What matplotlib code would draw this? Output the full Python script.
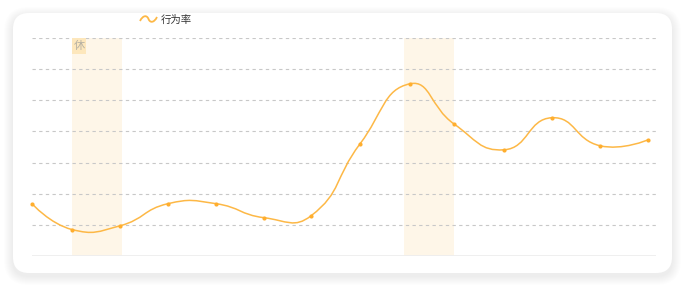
import matplotlib
matplotlib.use("Agg")
import matplotlib.pyplot as plt
from matplotlib.patches import FancyBboxPatch, PathPatch, Rectangle
from matplotlib.path import Path

plt.rcParams["font.family"] = ["Noto Sans CJK SC", "DejaVu Sans"]

# day offsets of each sample (time axis) and the behaviour rate
days = [0, 0.8, 1.76, 2.72, 3.68, 4.64, 5.58, 6.56, 7.56, 8.44, 9.44, 10.4, 11.36, 12.32]
rate = [16.8, 8.5, 9.7, 16.8, 16.8, 12.3, 12.9, 36.0, 55.3, 42.4, 34.1, 44.4, 35.4, 37.3]
rest_bands = [(0.8, 1.8), (7.44, 8.44)]
rest_label = "休"
series_name = "行为率"

LINE_COLOR = "#FDB846"
DOT_COLOR = "#FFAE2E"
BAND_COLOR = "#FEF6E8"

W, H = 686, 287
fig = plt.figure(figsize=(W / 100, H / 100), dpi=100)

# card background with soft shadow
bg = fig.add_axes([0, 0, 1, 1])
bg.set_xlim(0, W)
bg.set_ylim(H, 0)
bg.axis("off")
for grow in range(9, 0, -1):
    bg.add_patch(FancyBboxPatch(
        (13 + 16 - grow, 13 + 16 - grow + 3), 659 - 32 + 2 * grow, 260 - 32 + 2 * grow,
        boxstyle=f"round,pad=16,rounding_size={16 + grow}",
        fc="#000000", ec="none", alpha=0.007))
bg.add_patch(FancyBboxPatch(
    (13 + 16, 13 + 16), 659 - 32, 260 - 32,
    boxstyle="round,pad=16,rounding_size=16", fc="white", ec="none"))

# legend
icon = Path([(140, 21), (143, 15), (147, 15), (148.5, 19),
             (150, 23), (154, 23), (157, 17)],
            [Path.MOVETO, Path.CURVE4, Path.CURVE4, Path.CURVE4,
             Path.CURVE4, Path.CURVE4, Path.CURVE4])
bg.add_patch(PathPatch(icon, fill=False, ec=LINE_COLOR, lw=1.3))
bg.text(161, 20, series_name, fontsize=7.5, color="#333333", va="center", ha="left")

ax = fig.add_axes([32 / W, (H - 256) / H, (656 - 32) / W, (256 - 38) / H])
ax.set_xlim(0, 12.48)
ax.set_ylim(0, 70)
ax.patch.set_alpha(0)
for s in ax.spines.values():
    s.set_visible(False)
ax.set_xticks([])
ax.set_yticks([])

for y in range(10, 71, 10):
    ax.axhline(y, color="#C8C8C8", lw=0.8, ls=(0, (3, 3)), zorder=1)
ax.axhline(0, color="#EEEEEE", lw=2, zorder=1)

for x0, x1 in rest_bands:
    ax.axvspan(x0, x1, color=BAND_COLOR, lw=0, zorder=0)

# rest marker on first band
ax.add_patch(Rectangle((rest_bands[0][0], 70), 14 / 50, -16 * 70 / 218,
                       fc="#FDE7BC", ec="none", zorder=2))
ax.text(rest_bands[0][0] + 7 / 50, 70 - 8 * 70 / 218, rest_label, fontsize=8,
        color="#B5B0A3", ha="center", va="center", zorder=3)

# smooth line (echarts-style bezier, smooth=0.5) computed in pixel space
sx, sy = 50.0, 218.0 / 70
smooth = 0.5
pts = [(x * sx, y * sy) for x, y in zip(days, rate)]
n = len(pts)
cps = []
for i in range(n):
    x, y = pts[i]
    px, py = pts[i - 1] if i > 0 else pts[i]
    nx, ny = pts[i + 1] if i < n - 1 else pts[i]
    vx, vy = nx - px, ny - py
    d0 = ((x - px) ** 2 + (y - py) ** 2) ** 0.5
    d1 = ((nx - x) ** 2 + (ny - y) ** 2) ** 0.5
    r = d1 / (d0 + d1) if d0 + d1 else 0.5
    cin = (x - vx * smooth * (1 - r), y - vy * smooth * (1 - r))
    cout = (x + vx * smooth * r, y + vy * smooth * r)
    cps.append((cin, cout))

verts = [pts[0]]
codes = [Path.MOVETO]
for i in range(1, n):
    c1 = cps[i - 1][1] if i - 1 > 0 else pts[0]
    c2 = cps[i][0] if i < n - 1 else pts[i]
    verts += [c1, c2, pts[i]]
    codes += [Path.CURVE4] * 3
verts = [(vx / sx, vy / sy) for vx, vy in verts]
ax.add_patch(PathPatch(Path(verts, codes), fill=False, ec=LINE_COLOR, lw=1.1, zorder=4))
ax.scatter(days, rate, s=9, color=DOT_COLOR, zorder=5, clip_on=False, linewidths=0)

fig.savefig("out.png", dpi=100)
